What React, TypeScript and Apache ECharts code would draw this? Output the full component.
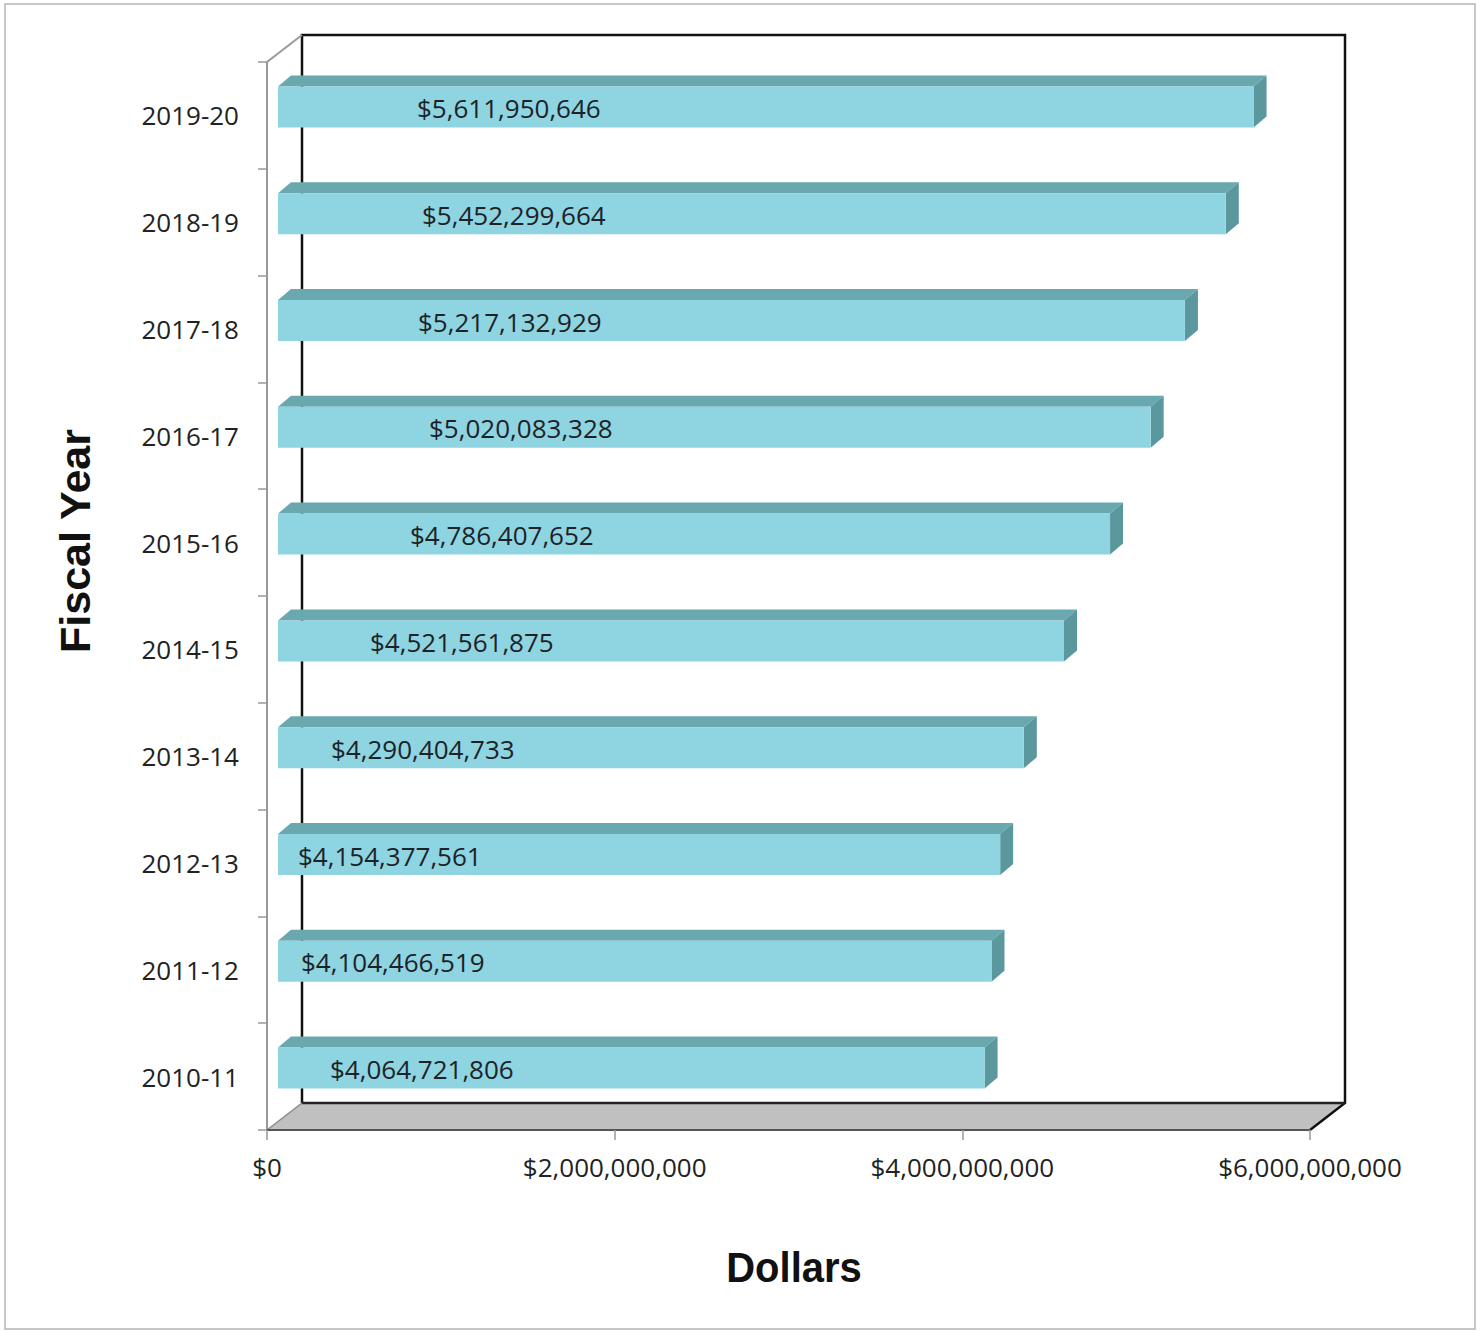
import React, { useEffect, useRef } from 'react';
import * as echarts from 'echarts';

// ---- data ----
const categories = ['2010-11', '2011-12', '2012-13', '2013-14', '2014-15', '2015-16', '2016-17', '2017-18', '2018-19', '2019-20'];
const amounts = [4064721806, 4104466519, 4154377561, 4290404733, 4521561875, 4786407652, 5020083328, 5217132929, 5452299664, 5611950646];
const xTicks = [0, 2000000000, 4000000000, 6000000000];
const xTitle = 'Dollars';
const yTitle = 'Fiscal Year';

// ---- styling (label horizontal insets inside each bar, px) ----
const labelInsets = [52, 23, 20, 53, 92, 132, 151, 140, 144, 139];

const W = 1480;
const H = 1332;
const GRID = { left: 267, top: 62, right: 1310, bottom: 1130 };
const DEPTH = { dx: 35, dy: -27 };
const BAR = { dx: 11, dy: -8.5, half: 20.5, ddx: 13, ddy: -11 };
const COLORS = { front: '#8fd4e1', top: '#6aa8b0', side: '#5b989e' };

const fmtDollar = (v: number) => '$' + String(Math.round(v)).replace(/\B(?=(\d{3})+(?!\d))/g, ',');

export default function App() {
  const ref = useRef<HTMLDivElement>(null);
  useEffect(() => {
    document.body.style.margin = '0';
    if (!ref.current) return;
    const chart = echarts.init(ref.current, null, { renderer: 'svg' });
    const L = GRID.left, T = GRID.top, R = GRID.right, B = GRID.bottom;
    const bl = L + DEPTH.dx, bt = T + DEPTH.dy, br = R + DEPTH.dx, bb = B + DEPTH.dy;
    const option: any = {
      animation: false,
      backgroundColor: '#ffffff',
      grid: { left: L, top: T, width: R - L, height: B - T, containLabel: false },
      xAxis: {
        type: 'value',
        min: xTicks[0],
        max: xTicks[xTicks.length - 1],
        interval: xTicks[1] - xTicks[0],
        z: 5,
        axisLine: { show: true, lineStyle: { color: '#555555', width: 2 } },
        axisTick: { show: true, length: 10, lineStyle: { color: '#999999', width: 1.5 } },
        splitLine: { show: false },
        axisLabel: {
          formatter: (v: number) => fmtDollar(v),
          fontFamily: 'Open Sans',
          fontSize: 26,
          color: '#222222',
          margin: 24,
        },
      },
      yAxis: {
        type: 'category',
        data: categories,
        z: 5,
        axisLine: { show: true, lineStyle: { color: '#999999', width: 2 } },
        axisTick: { show: true, length: 9, lineStyle: { color: '#999999', width: 1.5 } },
        splitLine: { show: false },
        axisLabel: {
          fontFamily: 'Open Sans',
          fontSize: 26,
          color: '#222222',
          margin: 28,
        },
      },
      graphic: [
        {
          type: 'rect', z: -10, silent: true,
          shape: { x: 5, y: 4, width: W - 10, height: H - 7 },
          style: { fill: 'none', stroke: '#b5b5b5', lineWidth: 1.5 },
        },
        {
          type: 'polygon', z: -5, silent: true,
          shape: { points: [[L, B], [R, B], [br, bb], [bl, bb]] },
          style: { fill: '#c0c0c0' },
        },
        {
          type: 'polyline', z: -4, silent: true,
          shape: { points: [[bl, bb], [bl, bt], [br, bt], [br, bb], [R, B]] },
          style: { fill: 'none', stroke: '#111111', lineWidth: 2.5 },
        },
        {
          type: 'line', z: -4, silent: true,
          shape: { x1: bl, y1: bb, x2: br, y2: bb },
          style: { stroke: '#222222', lineWidth: 2.5 },
        },
        {
          type: 'line', z: -4, silent: true,
          shape: { x1: L, y1: B, x2: bl, y2: bb },
          style: { stroke: '#8a8a8a', lineWidth: 1.5 },
        },
        {
          type: 'line', z: -4, silent: true,
          shape: { x1: L, y1: T, x2: bl, y2: bt },
          style: { stroke: '#999999', lineWidth: 2 },
        },
        {
          type: 'text', z: 10, silent: true,
          x: 794, y: 1267,
          scaleX: 0.93,
          style: {
            text: xTitle, fontFamily: 'Liberation Sans', fontWeight: 'bold', fontSize: 43,
            fill: '#111111', textAlign: 'center', textVerticalAlign: 'middle',
          },
        },
        {
          type: 'text', z: 10, silent: true,
          x: 75, y: 541, rotation: Math.PI / 2,
          style: {
            text: yTitle, fontFamily: 'Liberation Sans', fontWeight: 'bold', fontSize: 43,
            fill: '#111111', textAlign: 'center', textVerticalAlign: 'middle',
          },
        },
      ],
      series: [
        {
          type: 'custom',
          z: 10,
          encode: { x: 0, y: 1 },
          data: amounts.map((v, i) => [v, i]),
          renderItem: (params: any, api: any) => {
            const v = api.value(0);
            const c = api.value(1);
            const p0 = api.coord([0, c]);
            const p1 = api.coord([v, c]);
            const x0 = p0[0] + BAR.dx;
            const x1 = p1[0] + BAR.dx;
            const cy = p0[1] + BAR.dy;
            const t = cy - BAR.half;
            const b = cy + BAR.half;
            return {
              type: 'group',
              children: [
                {
                  type: 'polygon',
                  shape: { points: [[x0, t], [x1, t], [x1 + BAR.ddx, t + BAR.ddy], [x0 + BAR.ddx, t + BAR.ddy]] },
                  style: { fill: COLORS.top },
                },
                {
                  type: 'polygon',
                  shape: { points: [[x1, t], [x1 + BAR.ddx, t + BAR.ddy], [x1 + BAR.ddx, b + BAR.ddy], [x1, b]] },
                  style: { fill: COLORS.side },
                },
                {
                  type: 'rect',
                  shape: { x: x0, y: t, width: x1 - x0, height: b - t },
                  style: { fill: COLORS.front },
                },
                {
                  type: 'text',
                  x: x0 + labelInsets[params.dataIndex],
                  y: cy + 1,
                  style: {
                    text: fmtDollar(v),
                    fontFamily: 'Open Sans',
                    fontSize: 26,
                    fill: '#1c2328',
                    textAlign: 'left',
                    textVerticalAlign: 'middle',
                  },
                },
              ],
            };
          },
        },
      ],
    };
    chart.setOption(option);
    return () => chart.dispose();
  }, []);
  return <div ref={ref} style={{ width: W, height: H }} />;
}
